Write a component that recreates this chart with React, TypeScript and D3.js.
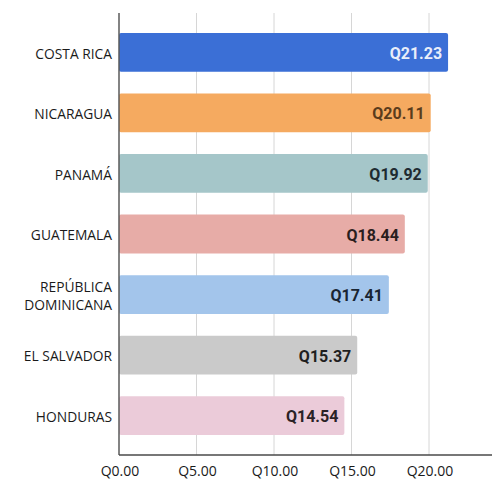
import { useEffect, useRef } from "react"
import * as d3 from "d3"

const countries = ["COSTA RICA", "NICARAGUA", "PANAMÁ", "GUATEMALA", "REPÚBLICA\nDOMINICANA", "EL SALVADOR", "HONDURAS"]
const values = [21.23, 20.11, 19.92, 18.44, 17.41, 15.37, 14.54]
const barColors = ["#3b6fd6", "#f5aa60", "#a5c6c9", "#e7aca7", "#a3c5eb", "#cacaca", "#ebcbd9"]
const labelColors = ["#e9eefa", "#5b3c1c", "#1e2b30", "#2a1e1e", "#1a2533", "#1f1f1f", "#2a2226"]
const ticks = [0, 5, 10, 15, 20]

const W = 492
const H = 481

export default function App() {
  const svgRef = useRef<SVGSVGElement>(null)

  useEffect(() => {
    if (!svgRef.current) return
    const svg = d3.select(svgRef.current)
    svg.selectAll("*").remove()

    const x = d3.scaleLinear().domain([0, 20]).range([119, 429])
    const y = d3.scaleBand<string>().domain(countries).range([22, 446]).paddingInner(0.36).paddingOuter(0.18)
    const top = 13
    const bottom = 455

    // gridlines
    svg.append("g")
      .selectAll("line")
      .data(ticks.slice(1))
      .join("line")
      .attr("x1", d => x(d)).attr("x2", d => x(d))
      .attr("y1", top).attr("y2", bottom)
      .attr("stroke", "#d6d6d6")
      .attr("stroke-width", 1)

    // bars
    svg.append("g")
      .selectAll("rect")
      .data(countries)
      .join("rect")
      .attr("x", x(0))
      .attr("y", d => y(d)!)
      .attr("width", (_, i) => x(values[i]) - x(0))
      .attr("height", y.bandwidth())
      .attr("rx", 2)
      .attr("fill", (_, i) => barColors[i])

    // value labels
    svg.append("g")
      .selectAll("text")
      .data(countries)
      .join("text")
      .attr("x", (_, i) => x(values[i]) - 6)
      .attr("y", d => y(d)! + y.bandwidth() / 2 + 1)
      .attr("dy", "0.35em")
      .attr("text-anchor", "end")
      .attr("font-family", "Roboto, sans-serif")
      .attr("font-weight", 700)
      .attr("font-size", 16)
      .attr("fill", (_, i) => labelColors[i])
      .text((_, i) => "Q" + values[i].toFixed(2))

    // axes lines
    svg.append("line")
      .attr("x1", x(0)).attr("x2", x(0))
      .attr("y1", top).attr("y2", bottom)
      .attr("stroke", "#5a5a5a").attr("stroke-width", 1.5)
    svg.append("line")
      .attr("x1", x(0)).attr("x2", W)
      .attr("y1", bottom).attr("y2", bottom)
      .attr("stroke", "#4a4a4a").attr("stroke-width", 1.5)

    // category labels
    const cat = svg.append("g")
      .selectAll("text")
      .data(countries)
      .join("text")
      .attr("transform", d => `translate(112,${y(d)! + y.bandwidth() / 2 + 1}) scale(0.92,1)`)
      .attr("text-anchor", "end")
      .attr("font-family", "'Open Sans', sans-serif")
      .attr("font-size", 15)
      .attr("fill", "#1a1a1a")
    cat.each(function (d) {
      const lines = d.split("\n")
      const t = d3.select(this)
      lines.forEach((ln, j) => {
        t.append("tspan")
          .attr("x", 0)
          .attr("dy", j === 0 ? `${0.35 - (lines.length - 1) * 0.62}em` : "1.24em")
          .text(ln)
      })
    })

    // tick labels
    svg.append("g")
      .selectAll("text")
      .data(ticks)
      .join("text")
      .attr("x", d => x(d) + 1)
      .attr("y", 476)
      .attr("text-anchor", "middle")
      .attr("font-family", "'Open Sans', sans-serif")
      .attr("font-size", 14)
      .attr("fill", "#1a1a1a")
      .text(d => "Q" + d.toFixed(2))
  }, [])

  return (
    <svg
      ref={svgRef}
      width={W}
      height={H}
      style={{ position: "absolute", left: 0, top: 0, background: "#fff" }}
    />
  )
}
